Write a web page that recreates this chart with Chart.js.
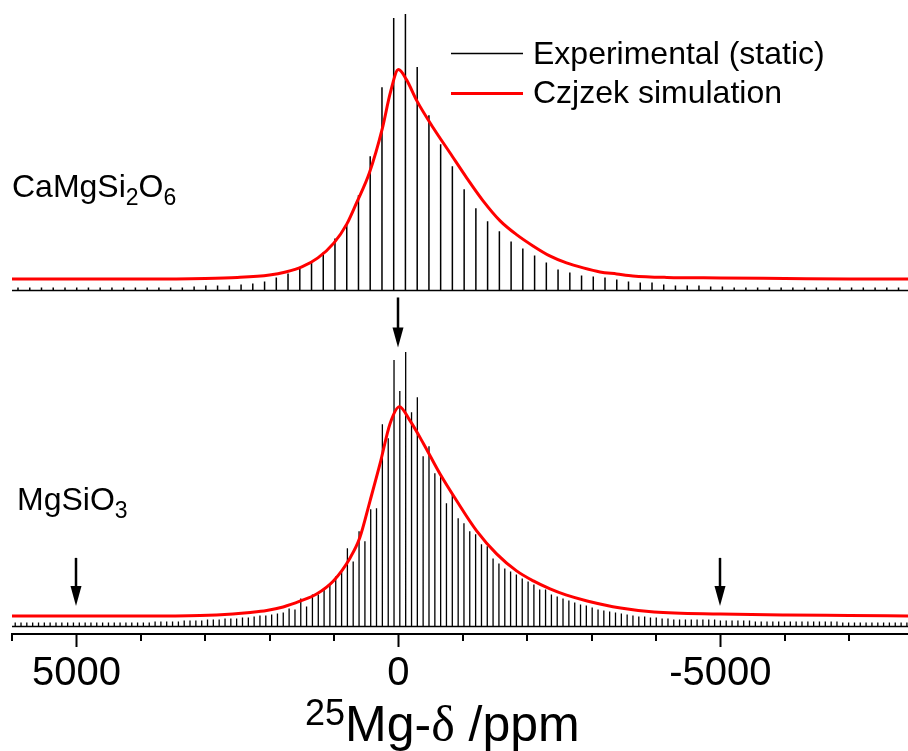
<!DOCTYPE html>
<html>
<head>
<meta charset="utf-8">
<script src="https://cdn.jsdelivr.net/npm/chart.js@4.4.1/dist/chart.umd.min.js"></script>
<style>
  html, body { margin: 0; padding: 0; background: #fff; }
  #wrap { width: 908px; height: 751px; }
</style>
</head>
<body>
<div id="wrap"><canvas id="myChart" width="908" height="751"></canvas></div>
<script>
// plot range in ppm (axis runs from high to low)
const PPM_LEFT = 6000;
const PPM_RIGHT = -7913;

// CaMgSi2O6 experimental spikelets: position (ppm) and height
const caPpm = [5907, 5724, 5542, 5360, 5177, 4995, 4813, 4631, 4448, 4266, 4084, 3901, 3719, 3537, 3355, 3172,
  2990, 2808, 2625, 2443, 2261, 2078, 1896, 1714, 1531, 1349, 1167, 985, 802, 620, 438, 255, 73,
  -109, -292, -474, -656, -838, -1021, -1203, -1385, -1568, -1750, -1932, -2115, -2297, -2479, -2662,
  -2844, -3026, -3208, -3391, -3573, -3755, -3938, -4120, -4302, -4485, -4667, -4849, -5031, -5214,
  -5396, -5578, -5761, -5943, -6125, -6308, -6490, -6672, -6855, -7037, -7219, -7402, -7584, -7766];
const caHeight = [3, 3, 3, 3, 3, 3, 3, 3, 3, 3, 3, 3, 3, 3, 3, 4,
  5, 5, 5, 6, 7, 9, 13, 17, 23, 29, 38, 52, 68, 95, 134, 203, 272,
  276, 223, 175, 146, 124, 101, 82, 69, 59, 49, 42, 35, 28, 21, 18,
  15, 14, 13, 11, 9, 8, 8, 6, 5, 5, 5, 4, 4, 3, 3,
  3, 3, 3, 3, 3, 3, 3, 3, 3, 3, 3, 3, 3];

// MgSiO3 experimental spikelets
const mgPpm = [5950, 5860, 5770, 5679, 5588, 5498, 5408, 5317, 5226, 5136, 5046, 4955, 4864, 4774, 4684, 4593,
  4502, 4412, 4322, 4231, 4140, 4050, 3960, 3869, 3778, 3688, 3598, 3507, 3416, 3326, 3236, 3145,
  3054, 2964, 2874, 2783, 2692, 2602, 2512, 2421, 2330, 2240, 2150, 2059, 1968, 1878, 1788, 1697,
  1606, 1516, 1426, 1335, 1244, 1154, 1064, 973, 882, 792, 702, 611, 520, 430, 340, 249, 158, 68,
  -22, -113, -204, -294, -384, -475, -566, -656, -746, -837, -928, -1018, -1108, -1199, -1290, -1380,
  -1470, -1561, -1652, -1742, -1832, -1923, -2014, -2104, -2194, -2285, -2376, -2466, -2556, -2647,
  -2738, -2828, -2918, -3009, -3100, -3190, -3280, -3371, -3462, -3552, -3642, -3733, -3824, -3914,
  -4004, -4095, -4186, -4276, -4366, -4457, -4548, -4638, -4728, -4819, -4910, -5000, -5090, -5181,
  -5272, -5362, -5452, -5543, -5634, -5724, -5814, -5905, -5996, -6086, -6176, -6267, -6358, -6448,
  -6538, -6629, -6720, -6810, -6900, -6991, -7082, -7172, -7262, -7353, -7444, -7534, -7624, -7715,
  -7806, -7896];
const mgHeight = [4, 4, 4, 4, 4, 4, 4, 4, 4, 4, 4, 4, 4, 4, 4, 4, 4, 4, 4, 4, 4,
  4, 4, 4, 5, 5, 5, 5, 5, 6, 6,
  6, 6, 7, 7, 7, 8, 8, 8,
  9, 9, 10, 11, 11, 12, 13, 14, 18, 17, 28, 20, 32, 32, 37, 42, 50, 55, 78, 65, 95, 85, 117, 118,
  202, 188, 266, 235, 274, 214, 229, 170, 180, 153, 152, 123, 133, 108, 103, 95, 92, 82, 80, 68,
  63, 58, 55, 52, 48, 45, 42, 37, 37, 32, 30, 28, 26,
  24, 22, 21, 19, 17, 16, 15, 14, 13, 12, 11, 10, 10, 9, 9, 8, 8, 7, 7, 7, 7, 7, 7, 7, 7,
  6, 6, 6, 6, 6, 6, 5, 5, 5, 5, 5, 5, 5, 5, 5,
  5, 5, 5, 5, 5, 5, 4, 4, 4, 4, 4, 4, 4, 4, 4, 4, 4, 4];

// Czjzek simulations
const caSimPpm = [6000, 5000, 4000, 3000, 2500, 2000, 1750, 1500, 1250, 1000, 800, 650, 450, 250, 125, 0,
  -125, -285, -540, -800, -1060, -1315, -1580, -1840, -2090, -2350, -2610, -2870, -3130, -3390, -3640,
  -4170, -5000, -6000, -7000, -7913];
const caSim = [0, 0, 0, 0.5, 1.5, 4, 7, 12, 21, 36, 55, 76, 106, 150, 186, 209,
  199, 178, 151, 126, 101, 78, 58, 44, 33, 23, 16, 11, 7, 5, 3,
  1.5, 1, 0.5, 0, 0];
const mgSimPpm = [6000, 4000, 3080, 2570, 2300, 2045, 1790, 1520, 1270, 1010, 750, 600, 440, 285, 130, -15,
  -180, -390, -645, -905, -1215, -1525, -1835, -2095, -2355, -2600, -2930, -3450, -3970, -5000,
  -6030, -7000, -7913];
const mgSim = [0, 0, 0.5, 2, 3.5, 5.5, 9, 15, 22, 35, 58, 78, 115, 152, 192, 209,
  195, 172, 142, 115, 85, 62, 45, 35, 27, 21, 15, 8, 4, 2,
  1, 0.5, 0];

// x axis ticks (every 1000 ppm), labelled ones
const axisTicks = [6000, 5000, 4000, 3000, 2000, 1000, 0, -1000, -2000, -3000, -4000, -5000, -6000, -7000];
const tickLabels = [5000, 0, -5000];

// arrows (ppm, top and tip in intensity units)
const arrowPpm = [0, 5000, -5000];
const arrowTop = [336, 76, 76];
const arrowTip = [286, 28, 28];

// vertical stacking of the two spectra
const CA_BASE = 343;
const CA_SIM_BASE = 354.5;
const MG_BASE = 7.5;
const MG_SIM_BASE = 18;

if (caPpm.length !== caHeight.length) throw new Error("ca " + caPpm.length + " " + caHeight.length);
if (mgPpm.length !== mgHeight.length) throw new Error("mg " + mgPpm.length + " " + mgHeight.length);

function spikeTrace(pos, heights, base) {
  let pts = [{ x: PPM_LEFT, y: base }];
  for (let i = 0; i < pos.length; i++) {
    pts.push({ x: pos[i], y: base });
    pts.push({ x: pos[i], y: base + heights[i] });
    pts.push({ x: pos[i], y: base });
  }
  pts.push({ x: PPM_RIGHT, y: base });
  return pts;
}

function simTrace(pos, values, base) {
  return pos.map((p, i) => ({ x: p, y: base + values[i] }));
}

const SANS = '"Liberation Sans", Arial, sans-serif';

function drawParts(ctx, parts, x, y) {
  parts.forEach((p) => {
    ctx.font = p.size + "px " + (p.serif ? '"Liberation Serif", serif' : SANS);
    ctx.fillText(p.t, x, y + (p.dy || 0));
    x += ctx.measureText(p.t).width;
  });
}

const decorations = {
  id: "decorations",
  afterDraw(chart) {
    const ctx = chart.ctx;
    const xs = chart.scales.x;
    const ys = chart.scales.y;
    ctx.save();
    ctx.fillStyle = "#000";
    ctx.strokeStyle = "#000";

    // minor ticks
    ctx.lineWidth = 2;
    xs.ticks.forEach((t) => {
      if (!tickLabels.includes(t.value)) {
        const px = Math.round(xs.getPixelForValue(t.value));
        ctx.beginPath();
        ctx.moveTo(px, xs.top + 1);
        ctx.lineTo(px, xs.top + 7);
        ctx.stroke();
      }
    });

    // arrows
    arrowPpm.forEach((p, i) => {
      const x = Math.round(xs.getPixelForValue(p));
      const y0 = ys.getPixelForValue(arrowTop[i]);
      const y1 = ys.getPixelForValue(arrowTip[i]);
      ctx.lineWidth = 2.5;
      ctx.beginPath();
      ctx.moveTo(x, y0);
      ctx.lineTo(x, y1 - 12);
      ctx.stroke();
      ctx.beginPath();
      ctx.moveTo(x - 5.5, y1 - 20);
      ctx.lineTo(x + 5.5, y1 - 20);
      ctx.lineTo(x, y1);
      ctx.closePath();
      ctx.fill();
    });

    // sample names
    ctx.textBaseline = "alphabetic";
    ctx.textAlign = "left";
    drawParts(ctx, [
      { t: "CaMgSi", size: 32 }, { t: "2", size: 23, dy: 8 },
      { t: "O", size: 32 }, { t: "6", size: 23, dy: 8 }
    ], 12, 197);
    drawParts(ctx, [
      { t: "MgSiO", size: 32 }, { t: "3", size: 23, dy: 8 }
    ], 17, 510);

    // legend
    ctx.lineWidth = 1.3;
    ctx.strokeStyle = "#000";
    ctx.beginPath();
    ctx.moveTo(451, 53.5);
    ctx.lineTo(523, 53.5);
    ctx.stroke();
    ctx.lineWidth = 3;
    ctx.strokeStyle = "#ff0000";
    ctx.beginPath();
    ctx.moveTo(451, 93.5);
    ctx.lineTo(523, 93.5);
    ctx.stroke();
    ctx.font = "32px " + SANS;
    ctx.fillText("Experimental (static)", 533, 64);
    ctx.fillText("Czjzek simulation", 533, 103);

    // axis title with superscript
    drawParts(ctx, [
      { t: "25", size: 36, dy: -16 },
      { t: "Mg-", size: 50 },
      { t: "\u03b4", size: 50, serif: true },
      { t: " /ppm", size: 50 }
    ], 305, 741);

    ctx.restore();
  }
};

function renderChart() {
  const ctx = document.getElementById("myChart");

  new Chart(ctx, {
    type: "line",
    data: {
      datasets: [
        {
          label: "Experimental (static)",
          data: spikeTrace(caPpm, caHeight, CA_BASE),
          borderColor: "#000",
          borderWidth: 1.5,
          pointRadius: 0,
          tension: 0,
          order: 2,
        },
        {
          label: "Czjzek simulation",
          data: simTrace(caSimPpm, caSim, CA_SIM_BASE),
          borderColor: "#ff0000",
          borderWidth: 3,
          pointRadius: 0,
          cubicInterpolationMode: "monotone",
          order: 1,
        },
        {
          label: "MgSiO3 experimental",
          data: spikeTrace(mgPpm, mgHeight, MG_BASE),
          borderColor: "#000",
          borderWidth: 1.3,
          pointRadius: 0,
          tension: 0,
          order: 2,
        },
        {
          label: "MgSiO3 simulation",
          data: simTrace(mgSimPpm, mgSim, MG_SIM_BASE),
          borderColor: "#ff0000",
          borderWidth: 3,
          pointRadius: 0,
          cubicInterpolationMode: "monotone",
          order: 1,
        },
      ],
    },
    options: {
      responsive: false,
      animation: false,
      events: [],
      layout: { padding: { left: 12, right: 0, top: 0, bottom: 50 } },
      plugins: { legend: { display: false }, tooltip: { enabled: false } },
      scales: {
        x: {
          type: "linear",
          reverse: true,
          min: PPM_RIGHT,
          max: PPM_LEFT,
          bounds: "data",
          afterBuildTicks: (scale) => {
            scale.ticks = axisTicks.map((v) => ({ value: v }));
          },
          border: { display: true, color: "#000", width: 2 },
          grid: {
            display: true,
            drawOnChartArea: false,
            drawTicks: true,
            tickLength: 13,
            tickWidth: 2,
            tickColor: (c) => (c.tick && tickLabels.includes(c.tick.value) ? "#000" : "rgba(0,0,0,0)"),
          },
          ticks: {
            autoSkip: false,
            maxRotation: 0,
            minRotation: 0,
            padding: 3,
            color: "#000",
            font: { size: 40, family: SANS },
            callback: (v) => (tickLabels.includes(v) ? String(v) : ""),
          },
        },
        y: { display: false, min: 0, max: 633 },
      },
    },
    plugins: [decorations],
  });
}

renderChart();
</script>
</body>
</html>
